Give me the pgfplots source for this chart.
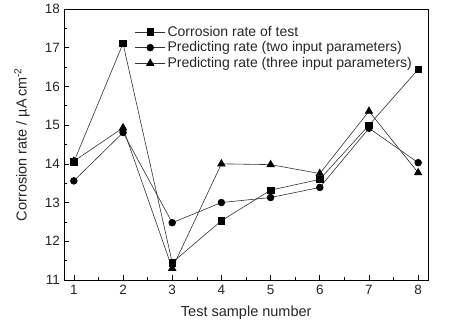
\documentclass[border=0pt]{standalone}
\usepackage{fontspec}
\setmainfont{Liberation Sans}
\usepackage{pgfplots}
\pgfplotsset{compat=1.18}
\usetikzlibrary{calc}
\begin{document}
\begin{tikzpicture}
\begin{axis}[
  name=ax,
  scale only axis,
  width=363.5pt, height=271pt,
  xmin=0.81, xmax=8.2, ymin=11, ymax=18,
  xtick={1,...,8}, ytick={11,...,18},
  minor x tick num=1, minor y tick num=1,
  tick align=inside,
  xtick pos=bottom, ytick pos=left,
  major tick length=5pt, minor tick length=3pt,
  axis line style={line width=0.8pt},
  every tick/.style={black, line width=0.6pt},
  /pgf/number format/assume math mode=true,
  tick label style={font=\fontsize{13.5}{15}\selectfont, color=black!85},
  xticklabel style={yshift=-2pt},
  yticklabel style={xshift=-1pt},
  label style={font=\fontsize{14.5}{17}\selectfont, color=black!85},
  xlabel={Test sample number},
  ylabel={Corrosion rate / µA\,cm\textsuperscript{-2}},
  xlabel style={at={(axis description cs:0.5,-0.122)}, anchor=center},
  ylabel style={at={(axis description cs:-0.117,0.5)}, anchor=center, rotate=0},
  legend cell align=left,
  legend style={draw=none, fill=none, at={(0.185,0.952)}, anchor=north west,
    font=\fontsize{14}{17}\selectfont, row sep=0pt, text=black!85},
  legend image code/.code={\draw[#1, mark repeat=2, mark phase=2] plot coordinates {(0pt,0pt) (15pt,0pt) (30pt,0pt)};},
  every axis plot/.append style={black!80, line width=0.6pt, mark options={fill=black, draw=black, solid}},
]
\addplot[mark=square*, mark size=3.3pt] coordinates {
(1,14.05) (2,17.11) (3,11.45) (4,12.53) (5,13.32) (6,13.60) (7,15.00) (8,16.44)};
\addlegendentry{Corrosion rate of test}
\addplot[mark=*, mark size=3.4pt] coordinates {
(1,13.56) (2,14.81) (3,12.48) (4,13.00) (5,13.13) (6,13.39) (7,14.92) (8,14.03)};
\addlegendentry{Predicting rate (two input parameters)}
\addplot[mark=triangle*, mark size=4.3pt] coordinates {
(1,14.07) (2,14.93) (3,11.30) (4,14.00) (5,13.98) (6,13.75) (7,15.36) (8,13.77)};
\addlegendentry{Predicting rate (three input parameters)}
\end{axis}
\pgfresetboundingbox
\path ($(ax.south west)+(-64.5pt,-47pt)$) rectangle ($(ax.north east)+(21pt,9pt)$);
\end{tikzpicture}
\end{document}
